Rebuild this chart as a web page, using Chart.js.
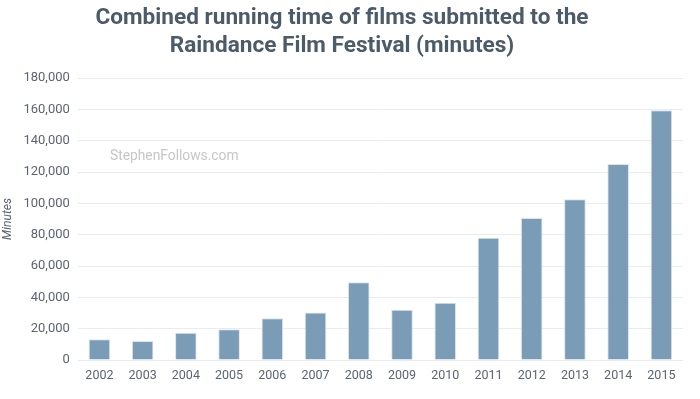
<!DOCTYPE html>
<html>
<head>
<meta charset="utf-8">
<script src="https://cdn.jsdelivr.net/npm/chart.js@4.4.0/dist/chart.umd.min.js"></script>
<style>
  html, body { margin: 0; padding: 0; background: #fff; }
  #wrap { width: 700px; height: 399px; }
</style>
</head>
<body>
<div id="wrap"><canvas id="chart" width="700" height="399"></canvas></div>
<script>
//Chart data
const years = ["2002", "2003", "2004", "2005", "2006", "2007", "2008", "2009", "2010", "2011", "2012", "2013", "2014", "2015"];
const minutes = [13300, 12200, 17400, 19700, 26600, 30400, 49700, 32100, 36600, 78000, 90600, 102600, 125100, 159400];
const titleLines = ["Combined running time of films submitted to the", "Raindance Film Festival (minutes)"];
const yAxisLabel = "Minutes";
const watermark = "StephenFollows.com";

//Watermark text drawn inside the plot
const watermarkPlugin = {
  id: "watermark",
  afterDraw(chart) {
    const ctx = chart.ctx;
    ctx.save();
    ctx.font = "13.8px Roboto";
    ctx.fillStyle = "#c6c6c6";
    ctx.textBaseline = "middle";
    ctx.fillText(watermark, 110, 157);
    ctx.restore();
  },
};

const config = {
  type: "bar",
  data: {
    labels: years,
    datasets: [
      {
        data: minutes,
        backgroundColor: "#7a9cb7",
        borderColor: "#dce4ec",
        borderWidth: { top: 1, left: 1, right: 1, bottom: 0 },
        barPercentage: 0.5,
        categoryPercentage: 1.0,
      },
    ],
  },
  options: {
    responsive: false,
    animation: false,
    layout: { padding: { left: 1, right: 17, top: 0, bottom: 8 } },
    plugins: {
      legend: { display: false },
      tooltip: { enabled: false },
      title: {
        display: true,
        text: titleLines,
        color: "#4c5b69",
        font: { family: "Roboto", size: 22.6, weight: "bold", lineHeight: 1.24 },
        padding: { top: 4, bottom: 18 },
      },
    },
    scales: {
      x: {
        grid: { display: false, drawTicks: false },
        border: { display: false },
        ticks: { color: "#5b6572", font: { family: "Roboto", size: 12.5 }, padding: 8 },
      },
      y: {
        min: 0,
        max: 180000,
        grid: { color: "#e8ebf1", drawTicks: false, lineWidth: 1 },
        border: { display: false },
        ticks: {
          stepSize: 20000,
          color: "#5b6572",
          font: { family: "Roboto", size: 13 },
          padding: 8,
          callback: (v) => v.toLocaleString("en-US"),
        },
        title: {
          display: true,
          text: yAxisLabel,
          color: "#5b6572",
          font: { family: "Roboto", size: 12, style: "italic" },
          padding: { top: 0, bottom: 0 },
        },
      },
    },
  },
  plugins: [watermarkPlugin],
};

new Chart(document.getElementById("chart").getContext("2d"), config);
</script>
</body>
</html>
